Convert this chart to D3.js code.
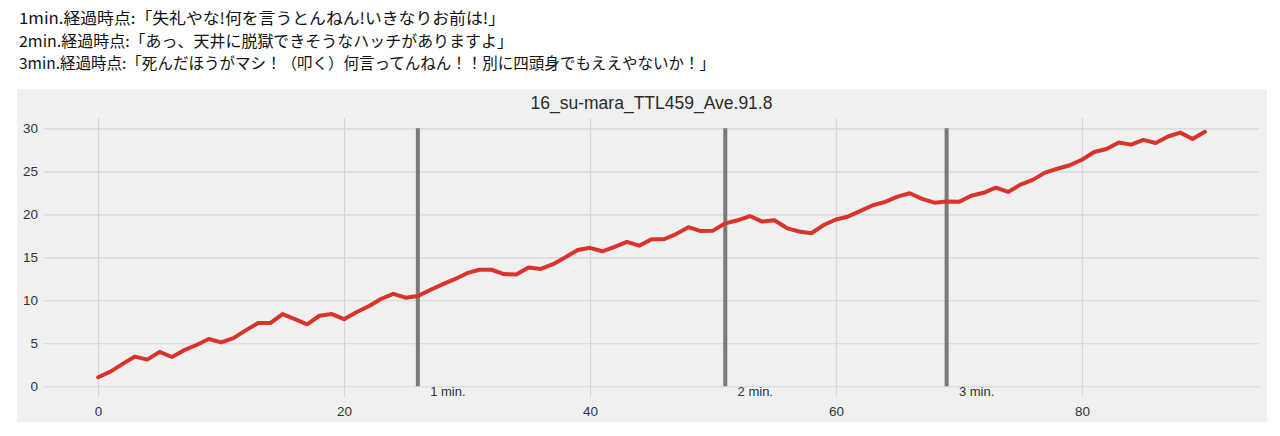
<!DOCTYPE html>
<html>
<head>
<meta charset="utf-8">
<script src="https://cdn.jsdelivr.net/npm/d3@7"></script>
<style>
  body { margin: 0; background: #fff; }
  text { font-family: "Liberation Sans", Arial, sans-serif; }
  .head { font-family: "Noto Sans CJK JP", sans-serif; }
</style>
</head>
<body>
<script>
const width = 1280;
const height = 436;

// comments shown above the chart
const headLines = [
  "1min.経過時点:「失礼やな!何を言うとんねん!いきなりお前は!」",
  "2min.経過時点:「あっ、天井に脱獄できそうなハッチがありますよ」",
  "3min.経過時点:「死んだほうがマシ！（叩く）何言ってんねん！！別に四頭身でもええやないか！」"
];
const headWidths = [486, 494, 696];

const title = "16_su-mara_TTL459_Ave.91.8";

// score per sample, x = 0..90
const values = [
  1.05, 1.7, 2.6, 3.45, 3.1, 4.0, 3.4, 4.2, 4.8, 5.5,
  5.1, 5.6, 6.5, 7.35, 7.35, 8.4, 7.8, 7.2, 8.2, 8.4,
  7.8, 8.6, 9.3, 10.15, 10.75, 10.3, 10.5, 11.2, 11.85, 12.45,
  13.15, 13.55, 13.55, 13.05, 13.0, 13.8, 13.65, 14.2, 15.0, 15.85,
  16.1, 15.7, 16.2, 16.8, 16.35, 17.1, 17.1, 17.7, 18.5, 18.05,
  18.1, 18.95, 19.3, 19.8, 19.15, 19.3, 18.4, 18.0, 17.8, 18.75,
  19.4, 19.75, 20.4, 21.05, 21.45, 22.05, 22.45, 21.8, 21.35, 21.5,
  21.45, 22.15, 22.5, 23.1, 22.6, 23.45, 24.0, 24.85, 25.3, 25.7,
  26.35, 27.25, 27.6, 28.35, 28.1, 28.65, 28.3, 29.05, 29.5, 28.75,
  29.6
];

// minute marks
const marks = [26, 51, 69];
const markLabels = ["1 min.", "2 min.", "3 min."];

const xTicks = [0, 20, 40, 60, 80];
const yTicks = [0, 5, 10, 15, 20, 25, 30];

const svg = d3.select("body").append("svg")
  .attr("width", width)
  .attr("height", height);

// header text
svg.append("g").selectAll("text")
  .data(headLines)
  .enter().append("text")
    .attr("class", "head")
    .attr("x", 19)
    .attr("y", function(d, i) { return 24 + i * 22.5; })
    .attr("font-size", 15.5)
    .attr("fill", "#111")
    .attr("textLength", function(d, i) { return headWidths[i]; })
    .attr("lengthAdjust", "spacingAndGlyphs")
    .text(function(d) { return d; });

// panel
svg.append("rect")
  .attr("x", 17)
  .attr("y", 89)
  .attr("width", 1250)
  .attr("height", 333)
  .attr("fill", "#f0f0f0");

const x = d3.scaleLinear().domain([-4.4, 94.4]).range([44, 1259]);
const y = d3.scaleLinear().domain([-1.25, 31.2]).range([397, 118]);

// grid + tick labels
const xAxis = svg.append("g")
  .attr("transform", "translate(0," + y.range()[0] + ")")
  .call(d3.axisBottom(x).tickValues(xTicks).tickSize(-(y.range()[0] - y.range()[1])).tickPadding(9));

const yAxis = svg.append("g")
  .attr("transform", "translate(" + x.range()[0] + ",0)")
  .call(d3.axisLeft(y).tickValues(yTicks).tickSize(-(x.range()[1] - x.range()[0])).tickPadding(6));

[xAxis, yAxis].forEach(function(a) {
  a.select(".domain").remove();
  a.selectAll(".tick line").attr("stroke", "#d6d6d6").attr("stroke-width", 1.2);
  a.selectAll(".tick text")
    .attr("font-size", 13.5)
    .attr("fill", "#333")
    .style("font-family", "'Liberation Sans', Arial, sans-serif");
});

// title
svg.append("text")
  .attr("x", (x.range()[0] + x.range()[1]) / 2)
  .attr("y", 109)
  .attr("text-anchor", "middle")
  .attr("font-size", 17.5)
  .attr("fill", "#2a2a2a")
  .text(title);

// minute lines
svg.append("g").selectAll("line")
  .data(marks)
  .enter().append("line")
    .attr("x1", function(d) { return x(d); })
    .attr("x2", function(d) { return x(d); })
    .attr("y1", y(0))
    .attr("y2", y(30))
    .attr("stroke", "#7a7a7a")
    .attr("stroke-width", 4);

svg.append("g").selectAll("text")
  .data(marks)
  .enter().append("text")
    .attr("x", function(d) { return x(d + 1); })
    .attr("y", y(-1.1))
    .attr("font-size", 13)
    .attr("fill", "#333")
    .text(function(d, i) { return markLabels[i]; });

// score line
const line = d3.line()
  .x(function(d, i) { return x(i); })
  .y(function(d) { return y(d); });

svg.append("path")
  .datum(values)
  .attr("d", line)
  .attr("fill", "none")
  .attr("stroke", "#d9342b")
  .attr("stroke-width", 4)
  .attr("stroke-linejoin", "round")
  .attr("stroke-linecap", "round");
</script>
</body>
</html>
